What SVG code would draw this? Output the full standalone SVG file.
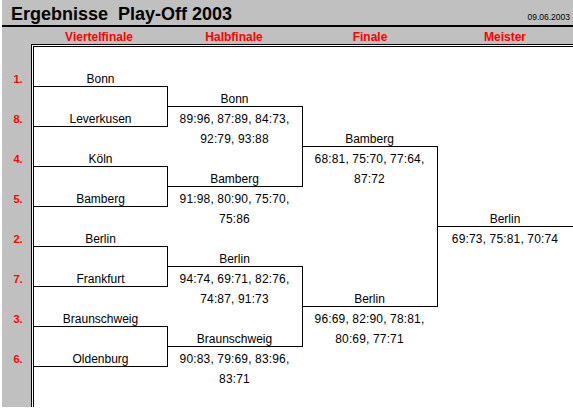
<svg xmlns="http://www.w3.org/2000/svg" width="573" height="408" viewBox="0 0 573 408">
<style>
.bg{fill:#c0c0c0}
.ln{stroke:#000;stroke-width:1;fill:none;shape-rendering:crispEdges}
.t{font-family:"Liberation Sans",Arial,sans-serif;font-size:12px;fill:#000;text-anchor:middle}
.sc{letter-spacing:0.15px}
.h{font-family:"Liberation Sans",Arial,sans-serif;font-size:12px;font-weight:bold;fill:#ff0000;text-anchor:middle}
.s{font-family:"Liberation Sans",Arial,sans-serif;font-size:11px;font-weight:bold;fill:#ff0000;text-anchor:middle}
</style>
<rect x="0" y="0" width="573" height="408" fill="#fff"/>
<g id="frame">
<rect class="bg" x="2" y="0" width="571" height="44"/>
<rect class="bg" x="2" y="44" width="29" height="363"/>
<rect x="2" y="25" width="571" height="2" fill="#000"/>
<path class="ln" d="M31.5 407V44.5H573M33.5 407V46.5H573"/>
<text x="11" y="20" xml:space="preserve" style="font-family:'Liberation Sans',Arial,sans-serif;font-size:18px;font-weight:bold;fill:#000">Ergebnisse  Play-Off 2003</text>
<text x="570" y="20" style="font-family:'Liberation Sans',Arial,sans-serif;font-size:8.5px;fill:#000;text-anchor:end">09.06.2003</text>
<text class="h" x="99" y="41">Viertelfinale</text>
<text class="h" x="234" y="41">Halbfinale</text>
<text class="h" x="370" y="41">Finale</text>
<text class="h" x="505" y="41">Meister</text>
</g>
<g id="seeds">
<text class="s" x="18" y="83">1.</text>
<text class="s" x="18" y="123">8.</text>
<text class="s" x="18" y="163">4.</text>
<text class="s" x="18" y="203">5.</text>
<text class="s" x="18" y="243">2.</text>
<text class="s" x="18" y="283">7.</text>
<text class="s" x="18" y="323">3.</text>
<text class="s" x="18" y="363">6.</text>
</g>
<g id="connectors">
<path class="ln" d="M33 86.5H167.5V126.5H33"/>
<path class="ln" d="M33 166.5H167.5V206.5H33"/>
<path class="ln" d="M33 246.5H167.5V286.5H33"/>
<path class="ln" d="M33 326.5H167.5V366.5H33"/>
<path class="ln" d="M167.5 106.5H302.5V186.5H167.5"/>
<path class="ln" d="M167.5 266.5H302.5V346.5H167.5"/>
<path class="ln" d="M302.5 146.5H437.5V306.5H302.5"/>
<path class="ln" d="M437.5 226.5H573"/>
</g>
<g id="r1-bonn"><text class="t" x="100.5" y="83">Bonn</text></g>
<g id="r1-leverkusen"><text class="t" x="100.5" y="123">Leverkusen</text></g>
<g id="r1-koeln"><text class="t" x="100.5" y="163">Köln</text></g>
<g id="r1-bamberg"><text class="t" x="100.5" y="203">Bamberg</text></g>
<g id="r1-berlin"><text class="t" x="100.5" y="243">Berlin</text></g>
<g id="r1-frankfurt"><text class="t" x="100.5" y="283">Frankfurt</text></g>
<g id="r1-braunschweig"><text class="t" x="100.5" y="323">Braunschweig</text></g>
<g id="r1-oldenburg"><text class="t" x="100.5" y="363">Oldenburg</text></g>
<g id="r2-bonn">
<text class="t" x="234.5" y="103">Bonn</text>
<text class="t sc" x="234.5" y="123">89:96, 87:89, 84:73,</text>
<text class="t sc" x="234.5" y="143">92:79, 93:88</text>
</g>
<g id="r2-bamberg">
<text class="t" x="234.5" y="183">Bamberg</text>
<text class="t sc" x="234.5" y="203">91:98, 80:90, 75:70,</text>
<text class="t sc" x="234.5" y="223">75:86</text>
</g>
<g id="r2-berlin">
<text class="t" x="234.5" y="263">Berlin</text>
<text class="t sc" x="234.5" y="283">94:74, 69:71, 82:76,</text>
<text class="t sc" x="234.5" y="303">74:87, 91:73</text>
</g>
<g id="r2-braunschweig">
<text class="t" x="234.5" y="343">Braunschweig</text>
<text class="t sc" x="234.5" y="363">90:83, 79:69, 83:96,</text>
<text class="t sc" x="234.5" y="383">83:71</text>
</g>
<g id="r3-bamberg">
<text class="t" x="369.5" y="143">Bamberg</text>
<text class="t sc" x="369.5" y="163">68:81, 75:70, 77:64,</text>
<text class="t sc" x="369.5" y="183">87:72</text>
</g>
<g id="r3-berlin">
<text class="t" x="369.5" y="303">Berlin</text>
<text class="t sc" x="369.5" y="323">96:69, 82:90, 78:81,</text>
<text class="t sc" x="369.5" y="343">80:69, 77:71</text>
</g>
<g id="champion">
<text class="t" x="505" y="223">Berlin</text>
<text class="t sc" x="505" y="243">69:73, 75:81, 70:74</text>
</g>
</svg>
